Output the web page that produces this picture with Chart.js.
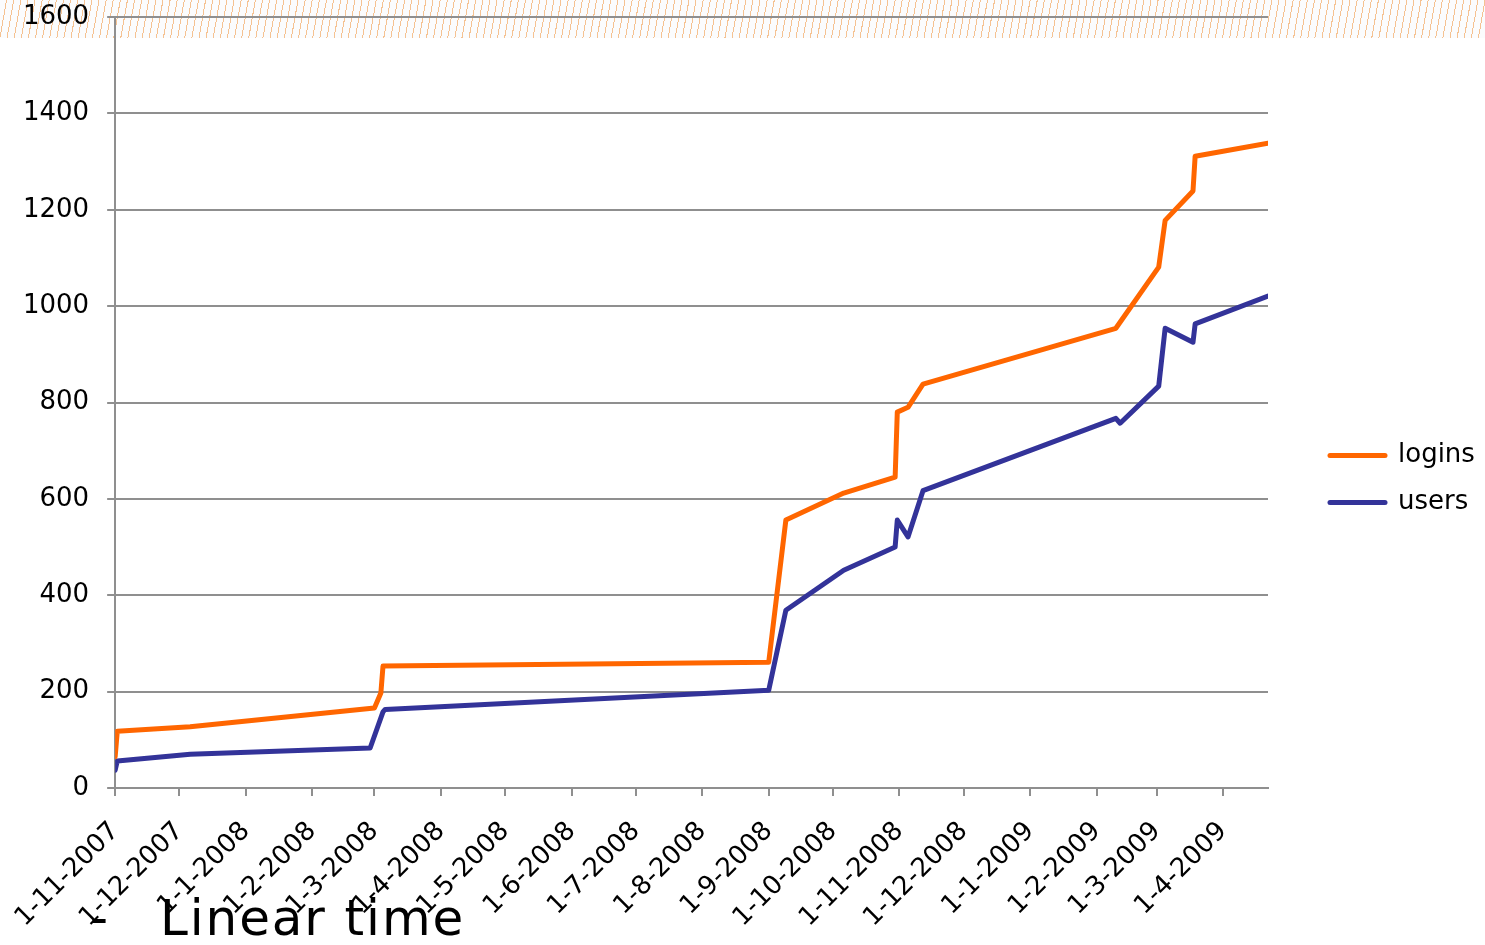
<!DOCTYPE html>
<html>
<head>
<meta charset="utf-8">
<title>logins / users</title>
<script src="https://cdn.jsdelivr.net/npm/chart.js@4.4.1/dist/chart.umd.min.js"></script>
<style>
  html, body { margin: 0; padding: 0; background: #fff; }
  #wrap { position: relative; width: 1485px; height: 945px; overflow: hidden; }
  #stripe {
    position: absolute; left: 0; top: 0; width: 1485px; height: 38px;
    background: repeating-linear-gradient(100deg, #fbfcfd 0 6px, #f5c292 6px 7px);
  }
  #growth { position: absolute; left: 0; top: 0; }
  .slide { position: absolute; font-family: 'DejaVu Sans', sans-serif; font-size: 50px; line-height: 50px; color: #000; }
</style>
</head>
<body>
<div id="wrap">
  <div id="stripe"></div>
  <canvas id="growth" width="1485" height="945"></canvas>
  <div class="slide" style="left:90px; top:893px;">-</div>
  <div class="slide" style="left:160px; top:893px; letter-spacing:1.9px;">Linear time</div>
</div>
<script>
// tick labels on the date axis (d-m-yyyy)
const tickLabels = ['1-11-2007', '1-12-2007', '1-1-2008', '1-2-2008', '1-3-2008', '1-4-2008',
    '1-5-2008', '1-6-2008', '1-7-2008', '1-8-2008', '1-9-2008', '1-10-2008', '1-11-2008',
    '1-12-2008', '1-1-2009', '1-2-2009', '1-3-2009', '1-4-2009'];
const axisEnd = '22-4-2009';

const loginDates = ['1-11-2007', '2-11-2007', '6-12-2007', '1-3-2008', '4-3-2008', '5-3-2008',
    '1-9-2008', '9-9-2008', '6-10-2008', '30-10-2008', '31-10-2008', '5-11-2008', '12-11-2008',
    '10-2-2009', '2-3-2009', '5-3-2009', '18-3-2009', '19-3-2009', '22-4-2009'];
const loginValues = [65, 118, 127, 166, 197, 253, 261, 556, 612, 645, 780, 790, 838,
    954, 1081, 1178, 1239, 1311, 1338];

const userDates = ['1-11-2007', '2-11-2007', '6-12-2007', '28-2-2008', '5-3-2008', '6-3-2008',
    '1-9-2008', '9-9-2008', '6-10-2008', '30-10-2008', '31-10-2008', '5-11-2008', '12-11-2008',
    '10-2-2009', '12-2-2009', '2-3-2009', '5-3-2009', '18-3-2009', '19-3-2009', '22-4-2009'];
const userValues = [37, 56, 70, 83, 158, 163, 203, 369, 452, 500, 556, 521, 617,
    767, 757, 834, 954, 925, 963, 1021];

// d-m-yyyy -> day number
function toDay(s) {
    const [d, m, y] = s.split('-').map(Number);
    return Date.UTC(y, m - 1, d) / 86400000;
}

function toPoints(dates, values) {
    return dates.map((d, i) => ({ x: toDay(d), y: values[i] }));
}

const labelFont = { family: 'DejaVu Sans', size: 26 };
const gridColor = '#8f8f8f';

// gap between the plot and the legend, like the original
const legendGap = {
    id: 'legendGap',
    beforeInit(chart) {
        const legend = chart.legend;
        const fit = legend.fit;
        legend.fit = function() {
            fit.call(this);
            this.width = 217;
        };
    },
    afterLayout(chart) {
        chart.legend.left += 41;
    }
};

new Chart(document.getElementById('growth'), {
    type: 'line',
    data: {
        datasets: [
            {
                label: 'logins',
                data: toPoints(loginDates, loginValues),
                borderColor: '#ff6600',
                backgroundColor: '#ff6600'
            },
            {
                label: 'users',
                data: toPoints(userDates, userValues),
                borderColor: '#333399',
                backgroundColor: '#333399'
            }
        ]
    },
    options: {
        responsive: false,
        animation: false,
        parsing: false,
        elements: {
            line: { borderWidth: 5, tension: 0, borderJoinStyle: 'round', borderCapStyle: 'round', fill: false },
            point: { radius: 0, hoverRadius: 0 }
        },
        layout: { padding: { top: 17, left: 0, right: 0, bottom: 4 } },
        scales: {
            x: {
                type: 'linear',
                min: toDay(tickLabels[0]),
                max: toDay(axisEnd),
                afterBuildTicks: scale => {
                    scale.ticks = tickLabels.map(t => ({ value: toDay(t) }));
                },
                afterFit: scale => { scale.height = 153; },
                ticks: {
                    autoSkip: false,
                    minRotation: 45,
                    maxRotation: 45,
                    padding: 20,
                    color: '#000',
                    font: labelFont,
                    callback: (value, index) => tickLabels[index]
                },
                grid: { drawOnChartArea: false, drawTicks: true, tickLength: 8, color: gridColor, lineWidth: 2 },
                border: { color: gridColor, width: 2 }
            },
            y: {
                min: 0,
                max: 1600,
                afterFit: scale => {
                    scale.width = 114;
                    scale.paddingTop = 0;
                    scale.paddingBottom = 0;
                },
                ticks: { stepSize: 200, padding: 18, color: '#000', font: labelFont, callback: v => String(v) },
                grid: { color: gridColor, lineWidth: 2, tickLength: 8 },
                border: { color: gridColor, width: 2 }
            }
        },
        plugins: {
            legend: {
                position: 'right',
                align: 'center',
                labels: {
                    usePointStyle: true,
                    pointStyle: 'line',
                    pointStyleWidth: 55,
                    padding: 21,
                    color: '#000',
                    font: labelFont,
                    generateLabels: chart => Chart.defaults.plugins.legend.labels.generateLabels(chart)
                        .map(item => Object.assign(item, { lineWidth: 5, lineCap: 'round' }))
                }
            },
            tooltip: { enabled: false }
        }
    },
    plugins: [legendGap]
});
</script>
</body>
</html>
